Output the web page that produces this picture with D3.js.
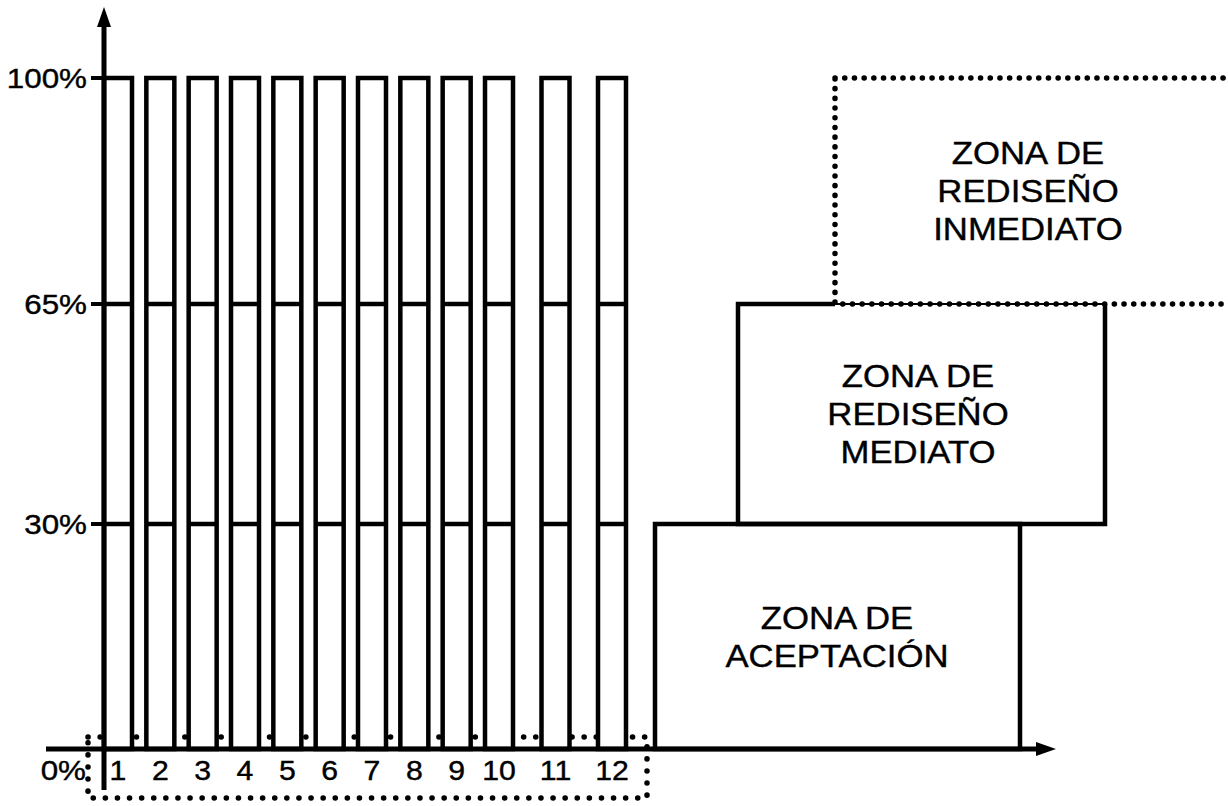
<!DOCTYPE html>
<html>
<head>
<meta charset="utf-8">
<script src="https://cdn.jsdelivr.net/npm/d3@7"></script>
<style>
  body { margin: 0; background: #fff; }
  text { font-family: "Liberation Sans", Arial, sans-serif; fill: #000; }
</style>
</head>
<body>
<div id="chart"></div>
<script>
// data
var categories = ["1", "2", "3", "4", "5", "6", "7", "8", "9", "10", "11", "12"];
var barTop = 100;                 // every column runs 0% - 100%
var levels = [30, 65];            // inner division lines of each column
var tickValues = [0, 30, 65, 100];
var tickLabels = ["0%", "30%", "65%", "100%"];
var zoneNames = [
  ["ZONA DE", "ACEPTACIÓN"],
  ["ZONA DE", "REDISEÑO", "MEDIATO"],
  ["ZONA DE", "REDISEÑO", "INMEDIATO"]
];
var zoneFrom = [0, 30, 65];
var zoneTo = [30, 65, 100];

var width = 1228, height = 806;

var svg = d3.select("#chart").append("svg")
    .attr("width", width)
    .attr("height", height);

// the drawing is not to scale, so use piecewise scales
var y = d3.scaleLinear()
    .domain([0, 30, 65, 100])
    .range([749, 524, 304, 78]);

var x = d3.scaleLinear()
    .domain([1, 10, 12])
    .range([104, 485, 598]);

var barW = 28;
var axisX = 104;

function stretched(sel, px, py, size, anchor) {
    // scanned lettering is a bit wider than Arial
    return sel.attr("transform", "translate(" + px + "," + py + ") scale(1.12,1)")
        .attr("font-size", size)
        .attr("text-anchor", anchor)
        .attr("stroke", "#000")
        .attr("stroke-width", 0.4);
}

// dotted frame round the column numbers
svg.append("rect")
    .attr("x", 88)
    .attr("y", y(0) - 12)
    .attr("width", 647 - 88)
    .attr("height", 798 - (y(0) - 12))
    .attr("fill", "none")
    .attr("stroke", "#000")
    .attr("stroke-width", 5.5)
    .attr("stroke-linecap", "round")
    .attr("stroke-dasharray", "0.1 12");

// columns
var col = svg.selectAll(".col")
    .data(categories)
    .enter().append("g")
    .attr("class", "col");

col.append("rect")
    .attr("x", function(d, i) { return x(i + 1); })
    .attr("y", y(barTop))
    .attr("width", barW)
    .attr("height", y(0) - y(barTop))
    .attr("fill", "#fff")
    .attr("stroke", "#000")
    .attr("stroke-width", 4.5);

levels.forEach(function(v) {
    col.append("line")
        .attr("x1", function(d, i) { return x(i + 1); })
        .attr("x2", function(d, i) { return x(i + 1) + barW; })
        .attr("y1", y(v))
        .attr("y2", y(v))
        .attr("stroke", "#000")
        .attr("stroke-width", 4.5);
});

col.append("text")
    .each(function(d, i) {
        stretched(d3.select(this), x(i + 1) + barW / 2, 780, 27, "middle");
    })
    .text(function(d) { return d; });

// axes
svg.append("line")
    .attr("x1", axisX).attr("x2", axisX)
    .attr("y1", 790).attr("y2", 20)
    .attr("stroke", "#000").attr("stroke-width", 5);
svg.append("path")
    .attr("d", "M" + axisX + ",7 L" + (axisX - 7) + ",27 L" + (axisX + 7) + ",27 Z")
    .attr("fill", "#000");

svg.append("line")
    .attr("x1", 46).attr("x2", 1042)
    .attr("y1", y(0)).attr("y2", y(0))
    .attr("stroke", "#000").attr("stroke-width", 5);
svg.append("path")
    .attr("d", "M1056," + y(0) + " L1036," + (y(0) - 7) + " L1036," + (y(0) + 7) + " Z")
    .attr("fill", "#000");

// y ticks and labels
tickValues.forEach(function(v, i) {
    if (v > 0) {
        svg.append("line")
            .attr("x1", 91).attr("x2", axisX)
            .attr("y1", y(v)).attr("y2", y(v))
            .attr("stroke", "#000").attr("stroke-width", 4);
        stretched(svg.append("text"), 87, y(v) + 10, 28, "end")
            .text(tickLabels[i]);
    } else {
        stretched(svg.append("text"), 86, y(v) + 31, 28, "end")
            .text(tickLabels[i]);
    }
});

// zones
var zoneX0 = [655, 738, 835];
var zoneX1 = [1020, 1105, 1240];
var textX = [837, 918, 1028];

// thin line where mediato's top runs under the dotted frame
svg.append("line")
    .attr("x1", zoneX0[2]).attr("x2", zoneX1[1])
    .attr("y1", y(zoneFrom[2])).attr("y2", y(zoneFrom[2]))
    .attr("stroke", "#000").attr("stroke-width", 2);

// mediato
svg.append("path")
    .attr("d", "M" + zoneX0[2] + "," + y(zoneTo[1]) +
        " L" + zoneX0[1] + "," + y(zoneTo[1]) +
        " L" + zoneX0[1] + "," + y(zoneFrom[1]) +
        " L" + zoneX1[1] + "," + y(zoneFrom[1]) +
        " L" + zoneX1[1] + "," + y(zoneTo[1]))
    .attr("fill", "none")
    .attr("stroke", "#000")
    .attr("stroke-width", 4.5);

// aceptacion
svg.append("rect")
    .attr("x", zoneX0[0])
    .attr("y", y(zoneTo[0]))
    .attr("width", zoneX1[0] - zoneX0[0])
    .attr("height", y(zoneFrom[0]) - y(zoneTo[0]))
    .attr("fill", "none")
    .attr("stroke", "#000")
    .attr("stroke-width", 4.5);

// inmediato, dotted
svg.append("rect")
    .attr("x", zoneX0[2])
    .attr("y", y(zoneTo[2]))
    .attr("width", zoneX1[2] - zoneX0[2])
    .attr("height", y(zoneFrom[2]) - y(zoneTo[2]))
    .attr("fill", "none")
    .attr("stroke", "#000")
    .attr("stroke-width", 5.5)
    .attr("stroke-linecap", "round")
    .attr("stroke-dasharray", "0.1 9.6");

// zone labels
var lineH = 38;
zoneNames.forEach(function(lines, i) {
    var mid = (y(zoneFrom[i]) + y(zoneTo[i])) / 2;
    var first = mid - (lines.length - 1) * lineH / 2 + 11;
    lines.forEach(function(t, j) {
        stretched(svg.append("text"), textX[i], first + j * lineH, 31, "middle")
            .text(t);
    });
});
</script>
</body>
</html>
